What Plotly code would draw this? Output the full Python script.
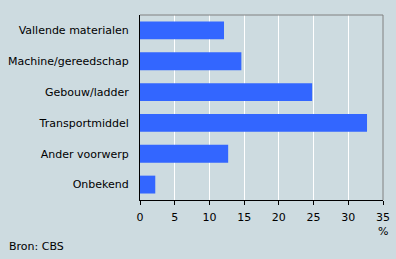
import plotly.graph_objects as go

categories = ["Vallende materialen", "Machine/gereedschap", "Gebouw/ladder",
              "Transportmiddel", "Ander voorwerp", "Onbekend"]
values = [12.1, 14.6, 24.8, 32.7, 12.7, 2.2]
x_ticks = [0, 5, 10, 15, 20, 25, 30, 35]

BG = "#CDDBE0"
FONT = dict(family="DejaVu Sans", size=11, color="#000000")

fig = go.Figure(go.Bar(
    x=values, y=categories, orientation="h",
    marker=dict(color="#3366FF", line=dict(width=0)),
    width=0.58,
))

fig.update_layout(
    width=396, height=259,
    margin=dict(l=140, r=13, t=15, b=59, autoexpand=False),
    paper_bgcolor=BG, plot_bgcolor=BG,
    font=FONT,
    showlegend=False,
    xaxis=dict(range=[0, 35], tickvals=x_ticks, showgrid=True, gridcolor="#FFFFFF",
               gridwidth=1, zeroline=False, showline=True, linecolor="#000000",
               linewidth=1, ticks="outside", ticklen=4, tickcolor="#000000",
               ticklabelstandoff=3,
               tickfont=FONT, fixedrange=True, automargin=False),
    yaxis=dict(autorange="reversed", showgrid=False, zeroline=False, showline=True,
               linecolor="#000000", linewidth=1, ticks="", ticklabelstandoff=8,
               tickfont=FONT, fixedrange=True, automargin=False),
    shapes=[
        dict(type="line", xref="paper", yref="paper", x0=0, x1=1, y0=1, y1=1,
             line=dict(color="#808080", width=1)),
        dict(type="line", xref="paper", yref="paper", x0=1, x1=1, y0=0, y1=1,
             line=dict(color="#808080", width=1)),
    ],
    annotations=[
        dict(text="%", xref="paper", yref="paper", x=1, y=0, yshift=-31,
             xanchor="center", yanchor="middle", showarrow=False, font=FONT),
        dict(text="Bron: CBS", xref="paper", yref="paper", x=0, y=0,
             xshift=-133, yshift=-46, xanchor="left", yanchor="middle",
             showarrow=False, font=FONT),
    ],
)

fig.write_html("out.html")
